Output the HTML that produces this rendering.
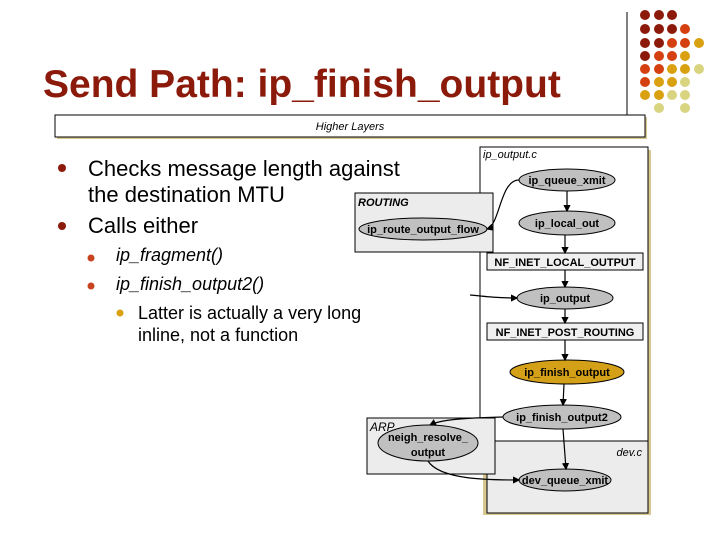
<!DOCTYPE html>
<html><head><style>
body{margin:0;width:720px;height:540px;background:#fff;position:relative;overflow:hidden;font-family:"Liberation Sans",sans-serif}
.t{position:absolute;white-space:nowrap}
</style></head><body>
<div class="t" style="left:43px;top:63px;font-size:39px;font-weight:bold;color:#8B1A0A;letter-spacing:0px">Send Path: ip_finish_output</div>
<div class="t" style="left:88px;top:156px;font-size:22px;color:#000;line-height:26px">Checks message length against<br>the destination MTU</div>
<div class="t" style="left:88px;top:213px;font-size:22px">Calls either</div>
<div class="t" style="left:116px;top:245px;font-size:18px;font-style:italic">ip_fragment()</div>
<div class="t" style="left:116px;top:274px;font-size:18px;font-style:italic">ip_finish_output2()</div>
<div class="t" style="left:138px;top:302px;font-size:18px;line-height:22px">Latter is actually a very long<br>inline, not a function</div>
<svg width="720" height="540" style="position:absolute;left:0;top:0" font-family="Liberation Sans,sans-serif">
<defs><marker id="a" markerWidth="6" markerHeight="6" refX="5" refY="3" orient="auto"><path d="M0,0L6,3L0,6z" fill="#000"/></marker></defs>
<g>
<circle cx="62" cy="168" r="4" fill="#8B1A0A"/><circle cx="62" cy="226" r="4" fill="#8B1A0A"/>
<circle cx="91" cy="258" r="3.5" fill="#C84420"/><circle cx="91" cy="286" r="3.5" fill="#C84420"/>
<circle cx="120" cy="313" r="3.5" fill="#D9A010"/>
</g>
<line x1="627" y1="12" x2="627" y2="115" stroke="#000"/>
<g>
<circle cx="645" cy="15" r="5" fill="#8B1A0A"/><circle cx="659" cy="15" r="5" fill="#8B1A0A"/><circle cx="672" cy="15" r="5" fill="#8B1A0A"/>
<circle cx="645" cy="29" r="5" fill="#8B1A0A"/><circle cx="659" cy="29" r="5" fill="#8B1A0A"/><circle cx="672" cy="29" r="5" fill="#8B1A0A"/><circle cx="685" cy="29" r="5" fill="#D4400F"/>
<circle cx="645" cy="43" r="5" fill="#8B1A0A"/><circle cx="659" cy="43" r="5" fill="#8B1A0A"/><circle cx="672" cy="43" r="5" fill="#D4400F"/><circle cx="685" cy="43" r="5" fill="#D4400F"/><circle cx="699" cy="43" r="5" fill="#D9A010"/>
<circle cx="645" cy="56" r="5" fill="#8B1A0A"/><circle cx="659" cy="56" r="5" fill="#D4400F"/><circle cx="672" cy="56" r="5" fill="#D4400F"/><circle cx="685" cy="56" r="5" fill="#D9A010"/>
<circle cx="645" cy="69" r="5" fill="#D4400F"/><circle cx="659" cy="69" r="5" fill="#D4400F"/><circle cx="672" cy="69" r="5" fill="#D9A010"/><circle cx="685" cy="69" r="5" fill="#D9A010"/><circle cx="699" cy="69" r="5" fill="#D8D480"/>
<circle cx="645" cy="82" r="5" fill="#D4400F"/><circle cx="659" cy="82" r="5" fill="#D9A010"/><circle cx="672" cy="82" r="5" fill="#D9A010"/><circle cx="685" cy="82" r="5" fill="#D8D480"/>
<circle cx="645" cy="95" r="5" fill="#D9A010"/><circle cx="659" cy="95" r="5" fill="#D9A010"/><circle cx="672" cy="95" r="5" fill="#D8D480"/><circle cx="685" cy="95" r="5" fill="#D8D480"/>
<circle cx="659" cy="108" r="5" fill="#D8D480"/><circle cx="685" cy="108" r="5" fill="#D8D480"/>
</g>
<rect x="57" y="117" width="590" height="22" fill="#d8c890"/>
<rect x="55" y="115" width="590" height="22" fill="#fff" stroke="#000"/>
<text x="350" y="130" font-size="11" font-style="italic" text-anchor="middle">Higher Layers</text>
<rect x="483" y="150" width="168" height="365" fill="#d8c890"/>
<rect x="480" y="147" width="168" height="294" fill="#fff" stroke="#000"/>
<rect x="487" y="441" width="161" height="72" fill="#ececec" stroke="#000"/>
<text x="483" y="158" font-size="11" font-style="italic">ip_output.c</text>
<text x="642" y="456" font-size="11" font-style="italic" text-anchor="end">dev.c</text>
<rect x="355" y="193" width="138" height="59" fill="#ececec" stroke="#000"/>
<text x="358" y="206" font-size="11" font-style="italic" font-weight="bold">ROUTING</text>
<rect x="367" y="418" width="128" height="56" fill="#ececec" stroke="#000"/>
<text x="370" y="431" font-size="12" font-style="italic">ARP</text>
<g stroke="#000" fill="#c0c0c0">
<ellipse cx="567" cy="180" rx="48" ry="11"/>
<ellipse cx="567" cy="223" rx="48" ry="12"/>
<ellipse cx="423" cy="229" rx="64" ry="11"/>
<rect x="487" y="253" width="156" height="17" fill="#f0f0f0"/>
<ellipse cx="565" cy="298" rx="48" ry="11"/>
<rect x="487" y="323" width="156" height="17" fill="#f0f0f0"/>
<ellipse cx="567" cy="372" rx="57" ry="12" fill="#D4A017"/>
<ellipse cx="562" cy="417" rx="59" ry="12"/>
<ellipse cx="428" cy="443" rx="50" ry="18"/>
<ellipse cx="565" cy="480" rx="46" ry="11"/>
</g>
<g fill="none" stroke="#000" stroke-width="1.2" marker-end="url(#a)">
<path d="M519,180 C500,180 500,225 487,229"/>
<line x1="567" y1="191" x2="567" y2="211"/>
<line x1="565" y1="235" x2="565" y2="253"/>
<line x1="565" y1="270" x2="565" y2="287"/>
<path d="M470,295 C490,297 500,298 517,298"/>
<line x1="565" y1="309" x2="565" y2="323"/>
<line x1="565" y1="340" x2="565" y2="360"/>
<line x1="564" y1="384" x2="563" y2="405"/>
<path d="M503,417 C460,418 440,420 430,425"/>
<line x1="563" y1="429" x2="566" y2="469"/>
<path d="M428,461 C440,480 490,480 519,480"/>
</g>
<g font-size="11" font-weight="bold" text-anchor="middle">
<text x="567" y="184">ip_queue_xmit</text>
<text x="567" y="227">ip_local_out</text>
<text x="423" y="233">ip_route_output_flow</text>
<text x="565" y="266">NF_INET_LOCAL_OUTPUT</text>
<text x="565" y="302">ip_output</text>
<text x="565" y="336">NF_INET_POST_ROUTING</text>
<text x="567" y="376">ip_finish_output</text>
<text x="562" y="421">ip_finish_output2</text>
<text x="428" y="441">neigh_resolve_</text>
<text x="428" y="456">output</text>
<text x="565" y="484">dev_queue_xmit</text>
</g>
</svg>
</body></html>
